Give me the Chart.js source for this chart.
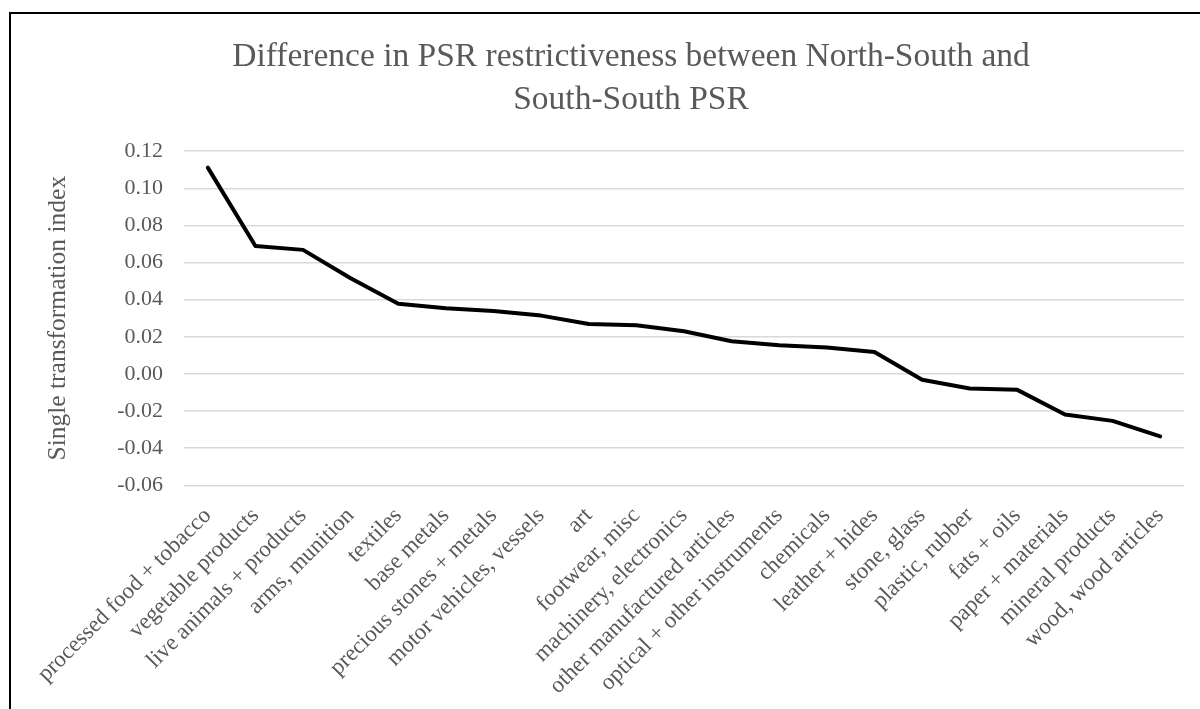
<!DOCTYPE html>
<html>
<head>
<meta charset="utf-8">
<script src="https://cdn.jsdelivr.net/npm/chart.js@4.4.1/dist/chart.umd.min.js"></script>
<style>
  html, body { margin: 0; padding: 0; background: #fff; overflow: hidden; }
  #frame {
    position: absolute; left: 9px; top: 12px;
    border-left: 2px solid #000; border-top: 2px solid #000;
    width: 1240px; height: 710px;
  }
  #frame canvas { display: block; }
</style>
</head>
<body>
<div id="frame"><canvas id="chart" width="1240" height="710"></canvas></div>
<script>
// Product groups, ordered from largest to smallest difference
const categories = [
  "processed food + tobacco", "vegetable products", "live animals + products",
  "arms, munition", "textiles", "base metals", "precious stones + metals",
  "motor vehicles, vessels", "art", "footwear, misc", "machinery, electronics",
  "other manufactured articles", "optical + other instruments", "chemicals",
  "leather + hides", "stone, glass", "plastic, rubber", "fats + oils",
  "paper + materials", "mineral products", "wood, wood articles"
];

// Difference in the single transformation index (North-South minus South-South)
const differenceValues = [
  0.1111, 0.0689, 0.0668, 0.0515, 0.0378, 0.0354, 0.0339,
  0.0314, 0.0269, 0.0262, 0.0230, 0.0176, 0.0154, 0.0142,
  0.0118, -0.0032, -0.0079, -0.0086, -0.0219, -0.0253, -0.0337
];

// Value axis range and tick step
const yMin = -0.06;
const yMax = 0.12;
const yStep = 0.02;

const chartTitle = ["Difference in PSR restrictiveness between North-South and", "South-South PSR"];
const yAxisTitle = "Single transformation index";

const FONT = "'Liberation Serif', 'Times New Roman', serif";
const TEXT = "#595959";

new Chart(document.getElementById("chart"), {
  type: "line",
  data: {
    labels: categories,
    datasets: [{
      data: differenceValues,
      borderColor: "#000000",
      borderWidth: 4,
      borderCapStyle: "round",
      borderJoinStyle: "round",
      pointRadius: 0,
      pointHoverRadius: 0,
      tension: 0,
      fill: false
    }]
  },
  options: {
    responsive: false,
    animation: false,
    events: [],
    layout: { padding: 0 },
    plugins: {
      legend: { display: false },
      tooltip: { enabled: false },
      title: {
        display: true,
        text: chartTitle,
        color: TEXT,
        font: { family: FONT, size: 33.5, weight: "normal", lineHeight: 1.3 },
        padding: { top: 21, bottom: 29 }
      }
    },
    scales: {
      x: {
        type: "category",
        offset: true,
        grid: { display: false, drawTicks: false },
        border: { display: false },
        ticks: {
          color: TEXT,
          font: { family: FONT, size: 23 },
          minRotation: 45,
          maxRotation: 45,
          autoSkip: false,
          padding: 17
        },
        afterFit(scale) { scale.height = 238.7; }
      },
      y: {
        min: yMin,
        max: yMax,
        grid: { color: "#d9d9d9", lineWidth: 1.4, drawTicks: false },
        border: { display: false },
        ticks: {
          stepSize: yStep,
          color: TEXT,
          font: { family: FONT, size: 22 },
          padding: 21,
          callback: (v) => Number(v).toFixed(2)
        },
        title: {
          display: true,
          text: yAxisTitle,
          color: TEXT,
          font: { family: FONT, size: 25.5 },
          padding: { top: 32, bottom: 0 }
        },
        afterFit(scale) { scale.width = 173; }
      },
      // empty margin on the right of the plot area
      yRight: {
        position: "right",
        display: true,
        grid: { display: false, drawTicks: false },
        border: { display: false },
        ticks: { display: false },
        afterFit(scale) { scale.width = 67; }
      }
    }
  }
});
</script>
</body>
</html>
